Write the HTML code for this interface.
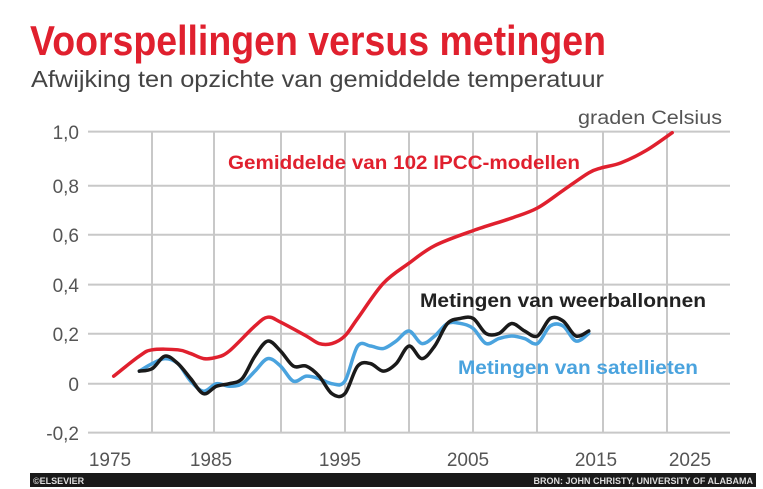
<!DOCTYPE html>
<html><head><meta charset="utf-8"><style>
html,body{margin:0;padding:0;background:#fff;}
svg{display:block;}
text{font-family:"Liberation Sans Narrow","Liberation Sans",sans-serif;}
</style></head><body>
<svg id="s" width="763" height="489" viewBox="0 0 763 489" xmlns="http://www.w3.org/2000/svg">
<rect width="763" height="489" fill="#fff"/>
<text x="30" y="55" font-size="42" font-weight="bold" fill="#e0202e" textLength="576" lengthAdjust="spacingAndGlyphs">Voorspellingen versus metingen</text>
<text x="31" y="87" font-size="23" fill="#444" textLength="573" lengthAdjust="spacingAndGlyphs">Afwijking ten opzichte van gemiddelde temperatuur</text>
<text x="578" y="124" font-size="19" fill="#555" textLength="144" lengthAdjust="spacingAndGlyphs">graden Celsius</text>
<g stroke="#c8c8c8" stroke-width="2">
<line x1="88" y1="131.6" x2="730" y2="131.6"/><line x1="88" y1="185.8" x2="730" y2="185.8"/>
<line x1="88" y1="234.7" x2="730" y2="234.7"/><line x1="88" y1="284.6" x2="730" y2="284.6"/>
<line x1="88" y1="333.8" x2="730" y2="333.8"/><line x1="88" y1="383.7" x2="730" y2="383.7"/>
<line x1="88" y1="432.6" x2="730" y2="432.6"/>
<line x1="152" y1="131" x2="152" y2="433"/><line x1="214" y1="131" x2="214" y2="433"/>
<line x1="281" y1="131" x2="281" y2="433"/><line x1="345" y1="131" x2="345" y2="433"/>
<line x1="409" y1="131" x2="409" y2="433"/><line x1="473" y1="131" x2="473" y2="433"/>
<line x1="537" y1="131" x2="537" y2="433"/><line x1="603" y1="131" x2="603" y2="433"/>
<line x1="667" y1="131" x2="667" y2="433"/>
</g>
<g font-size="19" fill="#555" text-anchor="end">
<text x="79" y="139">1,0</text><text x="79" y="193">0,8</text><text x="79" y="242">0,6</text>
<text x="79" y="292">0,4</text><text x="79" y="341">0,2</text><text x="79" y="391">0</text>
<text x="79" y="440">-0,2</text>
</g>
<g font-size="19" fill="#555" text-anchor="middle">
<text x="110" y="466">1975</text><text x="211" y="466">1985</text><text x="340" y="466">1995</text>
<text x="468" y="466">2005</text><text x="596" y="466">2015</text><text x="690" y="466">2025</text>
</g>
<g id="lines" fill="none" stroke-linejoin="round" stroke-linecap="round"></g>
<text x="228" y="169" font-size="19" font-weight="bold" fill="#e0202e" textLength="352" lengthAdjust="spacingAndGlyphs">Gemiddelde van 102 IPCC-modellen</text>
<text x="420" y="307" font-size="19" font-weight="bold" fill="#222" textLength="286" lengthAdjust="spacingAndGlyphs">Metingen van weerballonnen</text>
<text x="458" y="374" font-size="19" font-weight="bold" fill="#4aa3de" textLength="240" lengthAdjust="spacingAndGlyphs">Metingen van satellieten</text>
<rect x="30" y="473" width="726" height="14" fill="#1a1a1a"/>
<text x="33" y="484" font-size="9" font-weight="bold" fill="#ddd">©ELSEVIER</text>
<text x="753" y="484" font-size="9" font-weight="bold" fill="#ddd" text-anchor="end">BRON: JOHN CHRISTY, UNIVERSITY OF ALABAMA</text>
</svg>
<script>
var red=[[1977,0.03],[1979,0.11],[1980,0.135],[1982,0.135],[1983,0.12],[1984,0.10],[1985,0.105],[1986,0.13],[1988,0.23],[1989,0.265],[1990,0.245],[1992,0.19],[1993,0.16],[1994,0.16],[1995,0.19],[1996,0.26],[1998,0.40],[2000,0.48],[2002,0.55],[2005,0.61],[2008,0.66],[2010,0.70],[2012,0.77],[2014,0.84],[2015,0.86],[2016.5,0.88],[2018.5,0.93],[2020.5,1.0]];
var blk=[[1979,0.05],[1980,0.06],[1981,0.11],[1982,0.08],[1983,0.02],[1984,-0.04],[1985,-0.01],[1986,0.0],[1987,0.02],[1988,0.11],[1989,0.17],[1990,0.13],[1991,0.07],[1992,0.07],[1993,0.03],[1994,-0.04],[1995,-0.04],[1996,0.07],[1997,0.08],[1998,0.05],[1999,0.08],[2000,0.15],[2001,0.10],[2002,0.15],[2003,0.24],[2004,0.26],[2005,0.26],[2006,0.20],[2007,0.20],[2008,0.24],[2009,0.21],[2010,0.19],[2011,0.26],[2012,0.25],[2013,0.19],[2014,0.21]];
var blu=[[1979,0.05],[1980,0.08],[1981,0.10],[1982,0.08],[1983,0.01],[1984,-0.03],[1985,0.0],[1986,-0.01],[1987,0.0],[1988,0.05],[1989,0.10],[1990,0.07],[1991,0.01],[1992,0.03],[1993,0.02],[1994,0.0],[1995,0.01],[1996,0.15],[1997,0.15],[1998,0.14],[1999,0.17],[2000,0.21],[2001,0.16],[2002,0.19],[2003,0.24],[2004,0.24],[2005,0.22],[2006,0.16],[2007,0.18],[2008,0.19],[2009,0.18],[2010,0.16],[2011,0.23],[2012,0.23],[2013,0.17],[2014,0.20]];
function P(d){var p=d.map(function(a){return [88+(a[0]-1975)*12.84,383.7-a[1]*251];});
var s="M"+p[0][0]+","+p[0][1];
for(var i=0;i<p.length-1;i++){var p0=p[i-1]||p[i],p1=p[i],p2=p[i+1],p3=p[i+2]||p2;
s+=" C"+(p1[0]+(p2[0]-p0[0])/6)+","+(p1[1]+(p2[1]-p0[1])/6)+" "+(p2[0]-(p3[0]-p1[0])/6)+","+(p2[1]-(p3[1]-p1[1])/6)+" "+p2[0]+","+p2[1];}
return s;}
var g=document.getElementById("lines"),ns="http://www.w3.org/2000/svg";
[[blu,"#4aa3de"],[blk,"#1a1a1a"],[red,"#e0202e"]].forEach(function(o){var e=document.createElementNS(ns,"path");e.setAttribute("d",P(o[0]));e.setAttribute("stroke",o[1]);e.setAttribute("stroke-width","3.5");g.appendChild(e);});
</script>
</body></html>
